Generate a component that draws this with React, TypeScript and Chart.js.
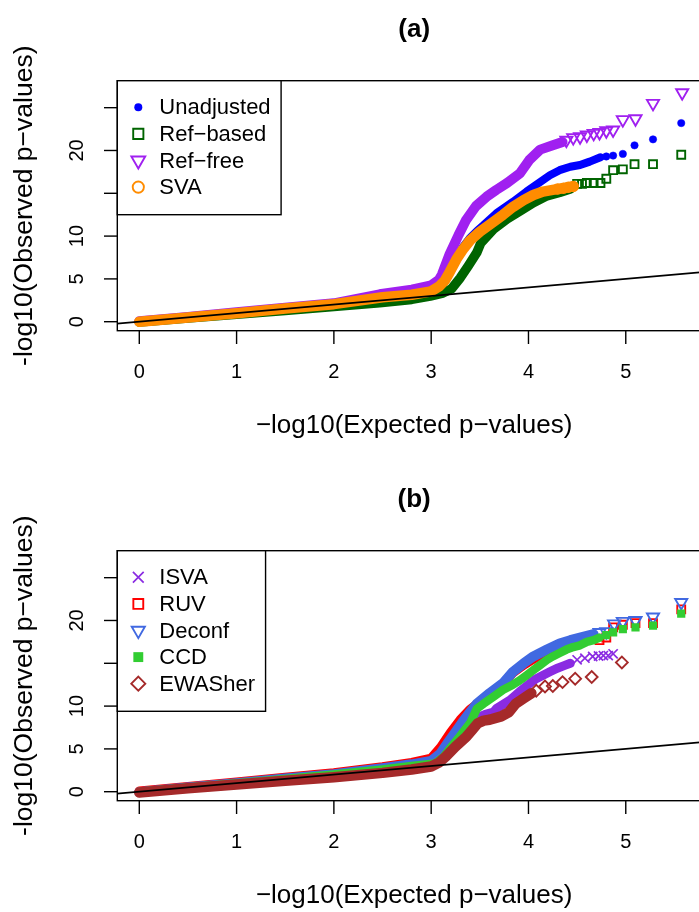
import React, { useEffect, useRef } from "react";
import { Chart, registerables } from "chart.js";

Chart.register(...registerables);

type Pt = [number, number];

const FONT = '"Liberation Sans", Arial, Helvetica, sans-serif';

// ---------- axes ----------
const xTicks = [0, 1, 2, 3, 4, 5];
const xTickLabels = ["0", "1", "2", "3", "4", "5"];
const yTicks = [0, 5, 10, 15, 20, 25];
const yTickLabels = ["0", "5", "10", "", "20", ""];
const xRange: Pt = [-0.226, 5.876];
const yRange: Pt = [-1.05, 28.15];
const refLine: Pt[] = [[-1, -1], [7, 7]];
const xTitle = "\u2212log10(Expected p\u2212values)";
const yTitle = "-log10(Observed p\u2212values)";

// ---------- panel (a) ----------
const unadjustedBand: Pt[] = [
  [0, 0], [0.5, 0.5], [1, 1.0], [1.5, 1.55], [2, 2.05], [2.5, 2.85], [2.8, 3.2], [3.0, 3.6],
  [3.08, 4.2], [3.14, 4.9], [3.19, 5.9], [3.26, 7.5], [3.33, 8.8], [3.4, 9.8], [3.47, 10.6],
  [3.54, 11.3], [3.67, 12.66], [3.84, 14.0], [3.98, 15.2], [4.08, 16.0], [4.22, 17.1],
  [4.32, 17.7], [4.43, 18.1], [4.53, 18.3], [4.63, 18.7], [4.74, 19.2],
];
const unadjustedTail: Pt[] = [
  [4.8, 19.3], [4.87, 19.4], [4.97, 19.6], [5.09, 20.6], [5.28, 21.3], [5.57, 23.2],
];
const refBasedBand: Pt[] = [
  [0, -0.05], [0.5, 0.42], [1, 0.88], [1.5, 1.32], [2, 1.78], [2.47, 2.2], [2.8, 2.6], [2.99, 3.0],
  [3.12, 3.35], [3.21, 3.86], [3.3, 5.14], [3.38, 6.5], [3.47, 8.1], [3.51, 9.2], [3.64, 10.8],
  [3.78, 12.0], [3.91, 12.9], [4.05, 13.9], [4.19, 14.7], [4.32, 15.1], [4.43, 15.5],
];
const refBasedTail: Pt[] = [
  [4.5, 16.1], [4.55, 16.1], [4.6, 16.2], [4.67, 16.2], [4.74, 16.2], [4.8, 16.7], [4.87, 17.7],
  [4.97, 17.8], [5.09, 18.4], [5.28, 18.4], [5.57, 19.5],
];
const refFreeBand: Pt[] = [
  [0, 0.05], [0.5, 0.55], [1, 1.1], [1.5, 1.62], [2, 2.15], [2.47, 3.2], [2.8, 3.75], [3.0, 4.25],
  [3.08, 4.9], [3.11, 5.5], [3.19, 7.9], [3.28, 10.1], [3.36, 11.9], [3.46, 13.5], [3.57, 14.6],
  [3.67, 15.4], [3.78, 16.2], [3.91, 17.3], [4.01, 18.9], [4.12, 20.1], [4.25, 20.6], [4.35, 21.0],
];
const refFreeTail: Pt[] = [
  [4.39, 21.2], [4.46, 21.5], [4.53, 21.6], [4.6, 21.8], [4.67, 22.0], [4.73, 22.1], [4.8, 22.3],
  [4.87, 22.4], [4.97, 23.6], [5.1, 23.7], [5.28, 25.5], [5.58, 26.75],
];
const svaBand: Pt[] = [
  [0, 0], [0.5, 0.5], [1, 1.0], [1.5, 1.55], [2, 2.05], [2.5, 2.85], [2.8, 3.15], [3.0, 3.55],
  [3.08, 4.1], [3.14, 4.8], [3.19, 5.8], [3.26, 7.3], [3.33, 8.5], [3.4, 9.5], [3.5, 10.5],
  [3.61, 11.4], [3.74, 12.5], [3.84, 13.4], [3.95, 14.2], [4.05, 14.8], [4.15, 15.2],
  [4.25, 15.4], [4.36, 15.6], [4.46, 15.8],
];
const svaTail: Pt[] = [[4.3, 15.5], [4.36, 15.6], [4.41, 15.7], [4.46, 15.8]];

// ---------- panel (b) ----------
const isvaBand: Pt[] = [
  [0, 0], [0.5, 0.52], [1, 1.05], [1.5, 1.58], [2, 2.1], [2.5, 2.8], [2.8, 3.3], [3.0, 3.8],
  [3.1, 4.9], [3.2, 6.4], [3.3, 7.6], [3.44, 8.5], [3.55, 9.0], [3.64, 9.3], [3.67, 9.7],
  [3.81, 10.7], [3.91, 11.7], [4.02, 12.7], [4.08, 13.2], [4.15, 13.6], [4.22, 14.0],
  [4.29, 14.4], [4.36, 14.7], [4.43, 15.0],
];
const isvaTail: Pt[] = [
  [4.5, 15.4], [4.58, 15.6], [4.66, 15.8], [4.72, 15.85], [4.77, 15.9], [4.82, 15.9], [4.87, 16.1],
];
const ruvBand: Pt[] = [
  [0, 0.05], [0.5, 0.57], [1, 1.1], [1.5, 1.65], [2, 2.2], [2.5, 2.9], [2.8, 3.4], [3.0, 3.9],
  [3.1, 5.2], [3.2, 6.9], [3.3, 8.4], [3.4, 9.6], [3.47, 10.2], [3.6, 11.4], [3.74, 12.6],
  [3.84, 13.9], [3.95, 14.8], [4.05, 15.5], [4.19, 16.3], [4.32, 17.0], [4.53, 17.7], [4.67, 18.1],
];
const ruvTail: Pt[] = [
  [4.73, 17.7], [4.8, 18.0], [4.87, 19.2], [4.97, 19.5], [5.1, 19.7], [5.28, 19.7], [5.57, 21.3],
];
const deconfBand: Pt[] = [
  [0, -0.05], [0.5, 0.5], [1, 1.0], [1.5, 1.55], [2, 2.05], [2.5, 2.75], [2.8, 3.2], [3.0, 3.6],
  [3.09, 4.4], [3.17, 5.7], [3.24, 6.8], [3.32, 8.1], [3.4, 9.3], [3.47, 10.3], [3.6, 11.5],
  [3.74, 12.7], [3.84, 14.0], [3.95, 15.0], [4.05, 15.8], [4.19, 16.6], [4.32, 17.3],
  [4.43, 17.7], [4.53, 18.0], [4.6, 18.2], [4.67, 18.4],
];
const deconfTail: Pt[] = [
  [4.73, 18.6], [4.8, 18.7], [4.88, 19.6], [4.97, 19.9], [5.1, 20.0], [5.28, 20.4], [5.57, 22.1],
];
const ccdBand: Pt[] = [
  [0, 0], [0.5, 0.5], [1, 1.0], [1.5, 1.5], [2, 2.0], [2.5, 2.6], [2.8, 3.0], [3.04, 3.3],
  [3.13, 4.1], [3.21, 5.3], [3.29, 6.4], [3.4, 8.0], [3.47, 9.7], [3.54, 10.3], [3.64, 11.1],
  [3.74, 11.9], [3.84, 12.5], [3.91, 13.0], [3.98, 13.6], [4.05, 14.2], [4.12, 14.8],
  [4.19, 15.4], [4.25, 15.8], [4.32, 16.2], [4.39, 16.6], [4.46, 16.9], [4.53, 17.1],
  [4.6, 17.5], [4.67, 17.7], [4.73, 18.0],
];
const ccdTail: Pt[] = [
  [4.8, 18.3], [4.87, 18.6], [4.97, 19.0], [5.1, 19.2], [5.28, 19.4], [5.57, 20.8],
];
const ewasherBand: Pt[] = [
  [0, -0.1], [0.5, 0.4], [1, 0.85], [1.5, 1.28], [2, 1.7], [2.5, 2.2], [2.8, 2.6], [3.0, 2.95],
  [3.08, 3.4], [3.15, 4.1], [3.25, 5.26], [3.36, 6.4], [3.42, 7.2], [3.48, 8.0], [3.54, 8.3],
  [3.6, 8.4], [3.72, 8.8], [3.8, 9.3], [3.87, 10.3], [3.95, 10.9], [4.03, 11.5],
];
const ewasherTail: Pt[] = [
  [4.08, 11.8], [4.17, 12.3], [4.25, 12.35], [4.35, 12.8], [4.48, 13.2], [4.65, 13.4], [4.96, 15.1],
];

// ---------- styling ----------
type Shape = "circle" | "rect" | "triDown" | "rectRot" | "crossRot";
interface Series {
  label: string;
  band: Pt[];
  tail: Pt[];
  color: string;
  shape: Shape;
  radius: number;
  legendRadius: number;
  filled: boolean;
  border: number;
  bandWidth: number;
}
interface PanelCfg {
  title: string;
  series: Series[]; // drawing order: first drawn first (bottom)
}

const panelA: PanelCfg = {
  title: "(a)",
  series: [
    { label: "Unadjusted", band: unadjustedBand, tail: unadjustedTail, color: "#0000FF", shape: "circle", radius: 3.7, legendRadius: 4.0, filled: true, border: 0.5, bandWidth: 8 },
    { label: "Ref\u2212based", band: refBasedBand, tail: refBasedTail, color: "#006400", shape: "rect", radius: 5.6, legendRadius: 7.2, filled: false, border: 1.9, bandWidth: 9.5 },
    { label: "Ref\u2212free", band: refFreeBand, tail: refFreeTail, color: "#A020F0", shape: "triDown", radius: 7.0, legendRadius: 8.0, filled: false, border: 1.9, bandWidth: 10 },
    { label: "SVA", band: svaBand, tail: svaTail, color: "#FF8C00", shape: "circle", radius: 4.8, legendRadius: 5.6, filled: false, border: 1.9, bandWidth: 10.5 },
  ],
};
const panelB: PanelCfg = {
  title: "(b)",
  series: [
    { label: "ISVA", band: isvaBand, tail: isvaTail, color: "#8A2BE2", shape: "crossRot", radius: 6.5, legendRadius: 7.6, filled: false, border: 1.7, bandWidth: 9 },
    { label: "RUV", band: ruvBand, tail: ruvTail, color: "#FF0000", shape: "rect", radius: 5.6, legendRadius: 7.0, filled: false, border: 1.9, bandWidth: 9.5 },
    { label: "Deconf", band: deconfBand, tail: deconfTail, color: "#4169E1", shape: "triDown", radius: 7.0, legendRadius: 7.6, filled: false, border: 1.9, bandWidth: 10 },
    { label: "CCD", band: ccdBand, tail: ccdTail, color: "#32CD32", shape: "rect", radius: 5.8, legendRadius: 7.0, filled: true, border: 0, bandWidth: 8.5 },
    { label: "EWASher", band: ewasherBand, tail: ewasherTail, color: "#A52A2A", shape: "rectRot", radius: 5.9, legendRadius: 7.0, filled: false, border: 1.9, bandWidth: 10.5 },
  ],
};

const CANVAS_W = 730;
const CANVAS_H = 470;
const AREA = { left: 117.3, top: 80.7, right: 711, bottom: 330.7 };

function chartStyle(shape: Shape): { style: string; rotation: number } {
  switch (shape) {
    case "triDown":
      return { style: "triangle", rotation: 180 };
    case "rect":
      return { style: "rect", rotation: 0 };
    case "rectRot":
      return { style: "rectRot", rotation: 0 };
    case "crossRot":
      return { style: "crossRot", rotation: 0 };
    default:
      return { style: "circle", rotation: 0 };
  }
}

function drawMarker(ctx: CanvasRenderingContext2D, s: Series, x: number, y: number) {
  const r = s.legendRadius;
  ctx.save();
  ctx.strokeStyle = s.color;
  ctx.fillStyle = s.color;
  ctx.lineWidth = s.border || 1;
  ctx.beginPath();
  if (s.shape === "circle") {
    ctx.arc(x, y, r, 0, Math.PI * 2);
  } else if (s.shape === "rect") {
    const h = r * Math.SQRT1_2;
    ctx.rect(x - h, y - h, 2 * h, 2 * h);
  } else if (s.shape === "triDown") {
    ctx.moveTo(x, y + r);
    ctx.lineTo(x - r * 0.866, y - r * 0.5);
    ctx.lineTo(x + r * 0.866, y - r * 0.5);
    ctx.closePath();
  } else if (s.shape === "rectRot") {
    ctx.moveTo(x - r, y);
    ctx.lineTo(x, y - r);
    ctx.lineTo(x + r, y);
    ctx.lineTo(x, y + r);
    ctx.closePath();
  } else {
    const d = r * Math.SQRT1_2;
    ctx.moveTo(x - d, y - d);
    ctx.lineTo(x + d, y + d);
    ctx.moveTo(x - d, y + d);
    ctx.lineTo(x + d, y - d);
  }
  if (s.filled) ctx.fill();
  else ctx.stroke();
  ctx.restore();
}

function makePlugin(cfg: PanelCfg) {
  return {
    id: "rstyle",
    afterDraw(chart: any) {
      const ctx: CanvasRenderingContext2D = chart.ctx;
      const a = chart.chartArea;
      const xs = chart.scales.x;
      const ys = chart.scales.y;
      ctx.save();
      ctx.strokeStyle = "#000";
      ctx.fillStyle = "#000";
      ctx.lineWidth = 1.4;
      // box
      ctx.strokeRect(a.left, a.top, a.right - a.left, a.bottom - a.top);
      // x ticks
      ctx.font = `20px ${FONT}`;
      ctx.textAlign = "center";
      ctx.textBaseline = "middle";
      xTicks.forEach((v, i) => {
        const px = xs.getPixelForValue(v);
        ctx.beginPath();
        ctx.moveTo(px, a.bottom);
        ctx.lineTo(px, a.bottom + 13.3);
        ctx.stroke();
        ctx.fillText(xTickLabels[i], px, a.bottom + 42);
      });
      // y ticks
      yTicks.forEach((v, i) => {
        const py = ys.getPixelForValue(v);
        ctx.beginPath();
        ctx.moveTo(a.left, py);
        ctx.lineTo(a.left - 13.3, py);
        ctx.stroke();
        if (yTickLabels[i]) {
          ctx.save();
          ctx.translate(a.left - 40.3, py);
          ctx.rotate(-Math.PI / 2);
          ctx.fillText(yTickLabels[i], 0, 0);
          ctx.restore();
        }
      });
      // axis titles
      ctx.font = `26px ${FONT}`;
      ctx.fillText(xTitle, (a.left + a.right) / 2, a.bottom + 95.3);
      ctx.save();
      ctx.translate(a.left - 92.3, (a.top + a.bottom) / 2);
      ctx.rotate(-Math.PI / 2);
      ctx.font = `26.5px ${FONT}`;
      ctx.fillText(yTitle, 0, 0);
      ctx.restore();
      // main title
      ctx.font = `bold 26px ${FONT}`;
      ctx.fillText(cfg.title, (a.left + a.right) / 2, a.top - 50.7);
      // legend
      ctx.font = `22px ${FONT}`;
      const rowH = 26.6;
      const textX = a.left + 42;
      let maxW = 0;
      cfg.series.forEach((s) => {
        maxW = Math.max(maxW, ctx.measureText(s.label).width);
      });
      const lw = 42 + maxW + 10.5;
      const lh = (cfg.series.length + 1) * rowH + 1;
      ctx.fillStyle = "#fff";
      ctx.fillRect(a.left, a.top, lw, lh);
      ctx.strokeRect(a.left, a.top, lw, lh);
      ctx.textAlign = "left";
      cfg.series.forEach((s, i) => {
        const y = a.top + (i + 1) * rowH;
        drawMarker(ctx, s, a.left + 21, y);
        ctx.fillStyle = "#000";
        ctx.fillText(s.label, textX, y + 1);
      });
      ctx.restore();
    },
  };
}

function Panel({ cfg, top }: { cfg: PanelCfg; top: number }) {
  const ref = useRef<HTMLCanvasElement>(null);
  useEffect(() => {
    const n = cfg.series.length;
    const datasets: any[] = [];
    cfg.series.forEach((s, i) => {
      const order = (n - i) * 2; // later series drawn on top
      const st = chartStyle(s.shape);
      datasets.push({
        label: s.label + " band",
        data: s.band.map(([x, y]) => ({ x, y })),
        showLine: true,
        borderColor: s.color,
        borderWidth: s.bandWidth,
        borderCapStyle: "round",
        borderJoinStyle: "round",
        pointRadius: 0,
        fill: false,
        order: order + 1,
      });
      datasets.push({
        label: s.label,
        data: s.tail.map(([x, y]) => ({ x, y })),
        showLine: false,
        pointStyle: st.style,
        rotation: st.rotation,
        pointRotation: st.rotation,
        pointRadius: s.radius,
        pointBorderWidth: s.border,
        pointBorderColor: s.color,
        pointBackgroundColor: s.filled ? s.color : "rgba(0,0,0,0)",
        order: order,
      });
    });
    datasets.push({
      label: "y=x",
      data: refLine.map(([x, y]) => ({ x, y })),
      showLine: true,
      borderColor: "#000",
      borderWidth: 1.6,
      pointRadius: 0,
      fill: false,
      order: -1,
    });
    const chart = new Chart(ref.current as HTMLCanvasElement, {
      type: "scatter",
      data: { datasets },
      options: {
        animation: false,
        responsive: false,
        devicePixelRatio: 1,
        events: [],
        layout: {
          padding: {
            left: AREA.left,
            top: AREA.top,
            right: CANVAS_W - AREA.right,
            bottom: CANVAS_H - AREA.bottom,
          },
        },
        plugins: {
          legend: { display: false },
          tooltip: { enabled: false },
          title: { display: false },
        },
        scales: {
          x: { type: "linear", display: false, min: xRange[0], max: xRange[1] },
          y: { type: "linear", display: false, min: yRange[0], max: yRange[1] },
        },
      } as any,
      plugins: [makePlugin(cfg)],
    });
    return () => chart.destroy();
  }, [cfg]);
  return (
    <canvas
      ref={ref}
      width={CANVAS_W}
      height={CANVAS_H}
      style={{ position: "absolute", left: 0, top, width: CANVAS_W, height: CANVAS_H }}
    />
  );
}

export default function App() {
  return (
    <div
      style={{
        position: "fixed",
        left: 0,
        top: 0,
        width: 699,
        height: 912,
        overflow: "hidden",
        background: "#fff",
      }}
    >
      <Panel cfg={panelA} top={0} />
      <Panel cfg={panelB} top={470} />
    </div>
  );
}
